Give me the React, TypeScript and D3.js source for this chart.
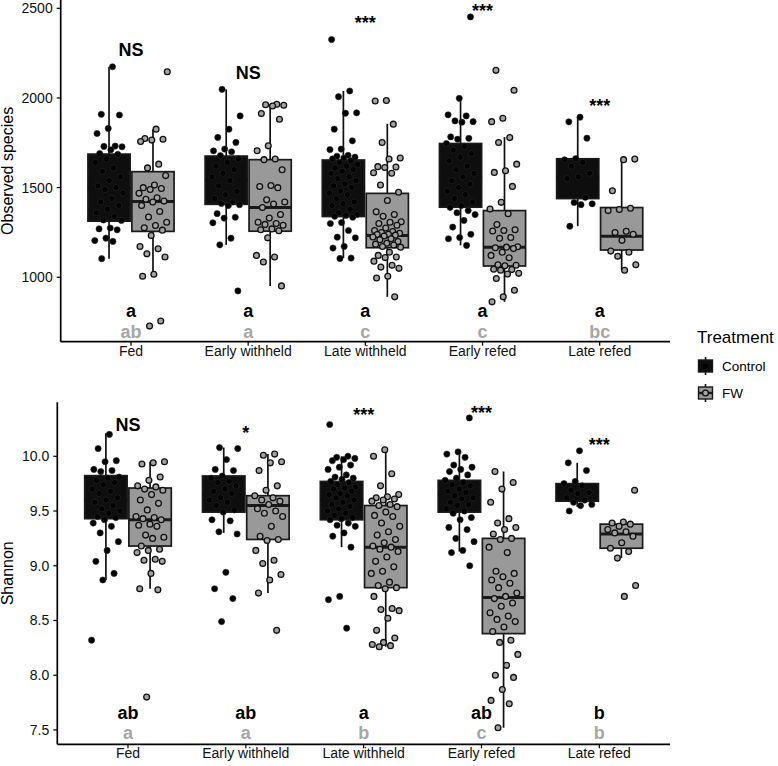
import React, { useLayoutEffect } from "react";
import * as d3 from "d3";

const categories = ["Fed", "Early withheld", "Late withheld", "Early refed", "Late refed"];
const treatments = ["Control", "FW"];

// Observed species: points per category
const observedControl: number[][] = [
  [2174, 1909, 1905, 1830, 1802, 1732, 1730, 1728, 1711, 1690, 1685, 1660, 1640, 1610, 1590, 1560, 1540, 1510, 1500, 1490, 1470, 1440, 1420, 1400, 1380, 1360, 1340, 1320, 1317, 1275, 1270, 1265, 1218, 1205, 1200, 1104],
  [2048, 1900, 1826, 1780, 1752, 1715, 1705, 1700, 1678, 1660, 1640, 1620, 1600, 1580, 1560, 1540, 1510, 1480, 1460, 1440, 1420, 1412, 1405, 1400, 1355, 1335, 1330, 1304, 1218, 1181, 924],
  [2326, 2039, 2007, 1917, 1915, 1826, 1761, 1715, 1712, 1680, 1675, 1670, 1665, 1660, 1650, 1640, 1630, 1620, 1610, 1600, 1590, 1580, 1560, 1550, 1540, 1520, 1510, 1500, 1480, 1470, 1460, 1440, 1420, 1410, 1400, 1380, 1360, 1350, 1345, 1340, 1335, 1305, 1300, 1261, 1224, 1220, 1172, 1163, 1107, 1105],
  [2452, 1998, 1906, 1900, 1872, 1868, 1865, 1783, 1775, 1770, 1746, 1730, 1710, 1690, 1670, 1650, 1620, 1600, 1580, 1560, 1540, 1520, 1500, 1480, 1460, 1440, 1420, 1400, 1390, 1372, 1360, 1350, 1317, 1280, 1240, 1222, 1215, 1178],
  [1893, 1867, 1776, 1662, 1655, 1641, 1620, 1580, 1560, 1550, 1446, 1417, 1410, 1405, 1285],
];
const observedFW: number[][] = [
  [2146, 1826, 1774, 1770, 1765, 1757, 1631, 1610, 1567, 1515, 1500, 1495, 1490, 1468, 1444, 1435, 1425, 1420, 1400, 1367, 1336, 1307, 1289, 1276, 1263, 1233, 1172, 1159, 1131, 1113, 1017, 1006, 756, 728],
  [1965, 1962, 1959, 1955, 1913, 1881, 1733, 1706, 1660, 1656, 1600, 1512, 1506, 1500, 1432, 1420, 1409, 1389, 1350, 1330, 1307, 1300, 1295, 1290, 1270, 1265, 1260, 1220, 1122, 1113, 1085, 952],
  [1986, 1983, 1854, 1752, 1665, 1660, 1617, 1615, 1612, 1583, 1580, 1515, 1474, 1428, 1365, 1350, 1340, 1310, 1307, 1300, 1290, 1275, 1261, 1255, 1250, 1245, 1240, 1238, 1235, 1230, 1225, 1215, 1210, 1200, 1190, 1185, 1180, 1172, 1168, 1140, 1122, 1113, 1110, 1090, 1067, 1057, 1050, 1006, 996, 891],
  [2154, 2043, 1887, 1868, 1779, 1752, 1631, 1594, 1585, 1507, 1418, 1381, 1354, 1294, 1265, 1261, 1258, 1222, 1218, 1170, 1168, 1165, 1160, 1140, 1122, 1109, 1070, 1067, 1064, 1045, 1043, 1040, 1022, 1018, 993, 928, 891, 863],
  [1659, 1656, 1483, 1385, 1378, 1372, 1257, 1250, 1240, 1206, 1146, 1140, 1117, 1070, 1039],
];
// [lower whisker, Q1, median, Q3, upper whisker]
const observedControlBox: number[][] = [
  [1104, 1313, 1500, 1687, 2174],
  [1181, 1407, 1540, 1676, 2048],
  [1107, 1339, 1500, 1654, 2039],
  [1178, 1391, 1560, 1746, 1998],
  [1285, 1439, 1560, 1661, 1893],
];
const observedFWBox: number[][] = [
  [1006, 1256, 1422, 1589, 1826],
  [952, 1257, 1389, 1656, 1965],
  [891, 1165, 1233, 1468, 1856],
  [863, 1063, 1168, 1372, 1782],
  [1039, 1152, 1229, 1389, 1659],
];
const observedSig = ["NS", "NS", "***", "***", "***"];
const observedSigY = [2233, 2104, 2382, 2451, 1922];
const observedLettersControl = ["a", "a", "a", "a", "a"];
const observedLettersFW = ["ab", "a", "c", "c", "bc"];
const observedLetterY = [776, 663];
const observedTicks = [1000, 1500, 2000, 2500];

// Shannon
const shannonControl: number[][] = [
  [10.2, 10.07, 9.96, 9.95, 9.88, 9.87, 9.86, 9.81, 9.8, 9.78, 9.76, 9.74, 9.7, 9.68, 9.66, 9.62, 9.6, 9.58, 9.55, 9.52, 9.5, 9.48, 9.45, 9.44, 9.42, 9.39, 9.36, 9.3, 9.22, 9.14, 9.04, 8.93, 8.87, 8.32],
  [10.08, 10.07, 9.97, 9.88, 9.87, 9.82, 9.8, 9.77, 9.76, 9.73, 9.7, 9.68, 9.66, 9.62, 9.6, 9.58, 9.55, 9.51, 9.49, 9.42, 9.41, 9.31, 9.29, 8.94, 8.79, 8.7, 8.49],
  [10.29, 10.0, 9.99, 9.98, 9.97, 9.96, 9.92, 9.9, 9.88, 9.83, 9.81, 9.8, 9.79, 9.77, 9.76, 9.74, 9.72, 9.71, 9.7, 9.68, 9.66, 9.65, 9.64, 9.62, 9.6, 9.58, 9.56, 9.54, 9.52, 9.5, 9.48, 9.46, 9.44, 9.43, 9.42, 9.39, 9.37, 9.36, 9.3, 9.27, 9.17, 8.72, 8.69, 8.43],
  [10.35, 10.04, 10.02, 9.99, 9.92, 9.9, 9.88, 9.86, 9.83, 9.8, 9.78, 9.76, 9.74, 9.73, 9.7, 9.68, 9.67, 9.64, 9.62, 9.61, 9.58, 9.56, 9.55, 9.52, 9.5, 9.48, 9.44, 9.42, 9.35, 9.33, 9.25, 9.22, 9.14, 9.12, 9.0],
  [10.05, 9.94, 9.87, 9.77, 9.75, 9.73, 9.69, 9.67, 9.66, 9.62, 9.6, 9.58, 9.56, 9.55, 9.5],
];
const shannonFW: number[][] = [
  [9.95, 9.94, 9.93, 9.81, 9.78, 9.73, 9.72, 9.7, 9.69, 9.65, 9.6, 9.57, 9.51, 9.45, 9.44, 9.43, 9.42, 9.38, 9.37, 9.36, 9.28, 9.26, 9.25, 9.18, 9.15, 9.14, 9.12, 9.06, 9.05, 9.04, 8.93, 8.79, 8.78, 7.8],
  [10.02, 10.01, 9.95, 9.94, 9.87, 9.73, 9.69, 9.64, 9.62, 9.6, 9.59, 9.56, 9.52, 9.5, 9.48, 9.45, 9.36, 9.27, 9.24, 9.23, 9.14, 9.05, 9.02, 8.92, 8.87, 8.75, 8.41],
  [10.06, 10.0, 9.84, 9.73, 9.65, 9.63, 9.62, 9.61, 9.6, 9.59, 9.56, 9.55, 9.54, 9.49, 9.46, 9.45, 9.39, 9.36, 9.31, 9.28, 9.24, 9.21, 9.18, 9.17, 9.15, 9.13, 9.08, 9.04, 8.99, 8.95, 8.93, 8.85, 8.82, 8.8, 8.79, 8.72, 8.61, 8.6, 8.59, 8.52, 8.41, 8.34, 8.3, 8.28, 8.27, 8.26],
  [9.86, 9.76, 9.7, 9.58, 9.43, 9.39, 9.35, 9.33, 9.29, 9.25, 9.24, 9.17, 9.12, 8.95, 8.93, 8.9, 8.87, 8.84, 8.8, 8.75, 8.72, 8.7, 8.66, 8.63, 8.57, 8.54, 8.51, 8.49, 8.44, 8.4, 8.32, 8.3, 8.19, 8.09, 8.0, 7.98, 7.87, 7.77, 7.74, 7.52],
  [9.69, 9.4, 9.39, 9.38, 9.36, 9.33, 9.31, 9.3, 9.27, 9.21, 9.16, 9.13, 9.07, 8.82, 8.72],
];
const shannonControlBox: number[][] = [
  [8.87, 9.43, 9.6, 9.823, 10.21],
  [9.3, 9.49, 9.65, 9.82, 10.08],
  [9.17, 9.42, 9.6, 9.77, 10.0],
  [9.13, 9.49, 9.65, 9.78, 10.04],
  [9.54, 9.59, 9.67, 9.75, 9.94],
];
const shannonFWBox: number[][] = [
  [8.79, 9.18, 9.42, 9.71, 9.95],
  [8.75, 9.24, 9.55, 9.64, 10.02],
  [8.26, 8.8, 9.17, 9.55, 10.06],
  [7.52, 8.38, 8.71, 9.25, 9.86],
  [9.07, 9.16, 9.29, 9.38, 9.4],
];
const shannonSig = ["NS", "*", "***", "***", "***"];
const shannonSigY = [10.23, 10.16, 10.32, 10.34, 10.05];
const shannonLettersControl = ["ab", "ab", "a", "ab", "b"];
const shannonLettersFW = ["a", "a", "b", "c", "b"];
const shannonLetterY = [7.6, 7.42];
const shannonTicks = [7.5, 8.0, 8.5, 9.0, 9.5, 10.0];

const FONT = "'Liberation Sans', Arial, Helvetica, sans-serif";
const CONTROL_FILL = "#0e0e0e";
const FW_FILL = "#999999";
const FW_POINT = "#a3a3a3";
const GREY_TEXT = "#a6a6a6";

type PanelProps = {
  left: number; right: number; top: number; bottom: number;
  domain: [number, number]; ticks: number[]; fmt: (v: number) => string; title: string;
  ctrl: number[][]; fw: number[][]; ctrlBox: number[][]; fwBox: number[][];
  sig: string[]; sigY: number[]; lettersC: string[]; lettersF: string[]; letterY: number[];
};

function Panel(p: PanelProps) {
  const x = d3.scalePoint<string>().domain(categories).range([p.left, p.right]).padding(0.6);
  const y = d3.scaleLinear().domain(p.domain).range([p.bottom, p.top]);
  const step = x.step();
  const bw = step * 0.36;
  const dodge = step * 0.1875;
  const jit = (i: number, g: number) => ((((i + 1) * 0.61803398875 + g * 0.37) % 1) - 0.5) * 2 * 0.125 * step;

  const boxes = (stats: number[][], t: number) =>
    categories.map((c, ci) => {
      const cx = (x(c) as number) + (t === 0 ? -dodge : dodge);
      const [lo, q1, med, q3, hi] = stats[ci];
      const fill = t === 0 ? CONTROL_FILL : FW_FILL;
      return (
        <g key={`b${t}${ci}`}>
          <line x1={cx} x2={cx} y1={y(hi)} y2={y(lo)} stroke="#111" strokeWidth={1.7} />
          <rect x={cx - bw / 2} y={y(q3)} width={bw} height={y(q1) - y(q3)} fill={fill} stroke="#1a1a1a" strokeWidth={1.7} />
          <line x1={cx - bw / 2} x2={cx + bw / 2} y1={y(med)} y2={y(med)} stroke={t === 0 ? CONTROL_FILL : "#1a1a1a"} strokeWidth={3} />
        </g>
      );
    });

  const points = (vals: number[][], t: number) =>
    categories.map((c, ci) => {
      const cx = (x(c) as number) + (t === 0 ? -dodge : dodge);
      return vals[ci].map((v, i) => (
        <circle
          key={`p${t}${ci}-${i}`}
          cx={cx + jit(i, ci * 2 + t)}
          cy={y(v)}
          r={t === 0 ? 3.1 : 2.9}
          fill={t === 0 ? "#000" : FW_POINT}
          stroke={t === 0 ? "#2a2a2a" : "#111"}
          strokeWidth={t === 0 ? 0.6 : 1.3}
        />
      ));
    });

  const midY = (p.top + p.bottom) / 2;
  return (
    <g fontFamily={FONT}>
      {boxes(p.ctrlBox, 0)}
      {boxes(p.fwBox, 1)}
      {points(p.ctrl, 0)}
      {points(p.fw, 1)}
      <line x1={p.left} x2={p.left} y1={p.top} y2={p.bottom} stroke="#000" strokeWidth={1.7} />
      <line x1={p.left} x2={p.right} y1={p.bottom} y2={p.bottom} stroke="#000" strokeWidth={1.7} />
      {p.ticks.map((t) => (
        <g key={`yt${t}`}>
          <line x1={p.left - 4} x2={p.left} y1={y(t)} y2={y(t)} stroke="#000" strokeWidth={1.2} />
          <text x={p.left - 8} y={y(t)} dy="0.35em" textAnchor="end" fontSize={14} fill="#111">
            {p.fmt(t)}
          </text>
        </g>
      ))}
      {categories.map((c) => (
        <g key={`xt${c}`}>
          <line x1={x(c)} x2={x(c)} y1={p.bottom} y2={p.bottom + 4} stroke="#000" strokeWidth={1.2} />
          <text x={x(c)} y={p.bottom + 14} textAnchor="middle" fontSize={14} fill="#111">
            {c}
          </text>
        </g>
      ))}
      <text transform={`translate(13,${midY}) rotate(-90)`} textAnchor="middle" fontSize={16} fill="#000">
        {p.title}
      </text>
      {categories.map((c, ci) => (
        <text key={`s${ci}`} x={x(c)} y={y(p.sigY[ci])} textAnchor="middle" fontSize={18} fontWeight="bold" fill="#000">
          {p.sig[ci]}
        </text>
      ))}
      {categories.map((c, ci) => (
        <g key={`l${ci}`}>
          <text x={x(c)} y={y(p.letterY[0])} textAnchor="middle" fontSize={18} fontWeight="bold" fill="#000">
            {p.lettersC[ci]}
          </text>
          <text x={x(c)} y={y(p.letterY[1])} textAnchor="middle" fontSize={18} fontWeight="bold" fill={GREY_TEXT}>
            {p.lettersF[ci]}
          </text>
        </g>
      ))}
    </g>
  );
}

function LegendKey({ cx, cy, t }: { cx: number; cy: number; t: number }) {
  return (
    <g>
      <line x1={cx} x2={cx} y1={cy - 9} y2={cy + 9} stroke="#111" strokeWidth={1.6} />
      <rect x={cx - 7} y={cy - 6} width={14} height={12} fill={t === 0 ? CONTROL_FILL : FW_FILL} stroke="#1a1a1a" strokeWidth={1.4} />
      <line x1={cx - 7} x2={cx + 7} y1={cy} y2={cy} stroke={t === 0 ? CONTROL_FILL : "#1a1a1a"} strokeWidth={2.4} />
      <circle cx={cx} cy={cy} r={t === 0 ? 3.1 : 2.9} fill={t === 0 ? "#000" : FW_POINT} stroke="#111" strokeWidth={t === 0 ? 0.6 : 1.3} />
    </g>
  );
}

export default function App() {
  useLayoutEffect(() => {
    document.body.style.margin = "0";
  }, []);
  const f1 = d3.format("d");
  const f2 = d3.format(".1f");
  return (
    <svg width={778} height={766} style={{ display: "block", background: "#fff" }}>
      <rect width={778} height={766} fill="#fff" />
      <Panel
        left={60.7} right={670} top={0} bottom={341.7}
        domain={[640.9, 2546.3]} ticks={observedTicks} fmt={f1} title="Observed species"
        ctrl={observedControl} fw={observedFW} ctrlBox={observedControlBox} fwBox={observedFWBox}
        sig={observedSig} sigY={observedSigY} lettersC={observedLettersControl} lettersF={observedLettersFW}
        letterY={observedLetterY}
      />
      <Panel
        left={57.3} right={670} top={402.3} bottom={744.3}
        domain={[7.369, 10.493]} ticks={shannonTicks} fmt={f2} title="Shannon"
        ctrl={shannonControl} fw={shannonFW} ctrlBox={shannonControlBox} fwBox={shannonFWBox}
        sig={shannonSig} sigY={shannonSigY} lettersC={shannonLettersControl} lettersF={shannonLettersFW}
        letterY={shannonLetterY}
      />
      <g fontFamily={FONT}>
        <text x={697} y={343} fontSize={17} fill="#000">Treatment</text>
        {treatments.map((t, i) => (
          <g key={t}>
            <LegendKey cx={705.5} cy={366 + i * 27} t={i} />
            <text x={722} y={366 + i * 27} dy="0.35em" fontSize={13.5} fill="#000">{t}</text>
          </g>
        ))}
      </g>
    </svg>
  );
}
